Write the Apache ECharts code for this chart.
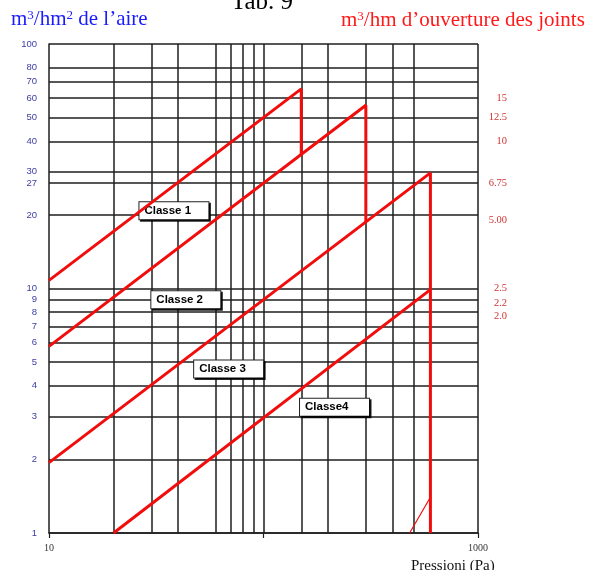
<!DOCTYPE html>
<html>
<head>
<meta charset="utf-8">
<script src="https://cdn.jsdelivr.net/npm/echarts@6/dist/echarts.min.js"></script>
<style>
  html, body { margin: 0; padding: 0; background: #fff; }
  #main { width: 591px; height: 570px; }
</style>
</head>
<body>
<div id="main"></div>
<script>
// Pressure values (Pa) that get a vertical grid line inside the plot
const pressureGrid = [20, 30, 40, 60, 70, 80, 90, 100, 150, 200, 300, 400, 500];
// Air flow per area (m³/hm²): horizontal grid lines, labelled on the left
const areaTicks = [1, 2, 3, 4, 5, 6, 7, 8, 9, 10, 20, 27, 30, 40, 50, 60, 70, 80, 100];
// Air flow per joint length (m³/hm), labelled on the right of these area lines
const jointTicks = ['15', '12.5', '10', '6.75', '5.00', '2.5', '2.2', '2.0'];
const jointTickAt = [60, 50, 40, 27, 20, 10, 9, 8];

// Permeability classes: [pressure Pa, flow m³/hm²]
const classNames = ['Classe 1', 'Classe 2', 'Classe 3', 'Classe4'];
const classe1 = [[10, 10.8], [150, 65.5], [150, 35.4]];
const classe2 = [[10, 5.8], [300, 56.2], [300, 18.7]];
const classe3 = [[10, 1.94], [600, 29.7], [600, 1]];
const classe4 = [[20, 1], [600, 9.9]];
const classe4Tail = [[480, 1], [600, 1.4]];

const GRID_COLOR = '#1e1e1e';
const RED = '#f20d0d';

const chart = echarts.init(document.getElementById('main'), null, { renderer: 'canvas' });

// grid lines + left value labels
const gridMarks = [];
pressureGrid.concat([1000]).forEach(v => gridMarks.push({ xAxis: v }));
areaTicks.forEach(v => gridMarks.push({
  yAxis: v,
  label: {
    show: true,
    position: 'start',
    distance: 12,
    formatter: String(v),
    color: '#3d3da3',
    fontFamily: 'Liberation Sans',
    fontSize: 9.5
  }
}));

// right-hand labels; a few sit slightly below their line
const nudge = { '5.00': 5, '2.2': 3.5, '2.0': 4.5 };
const jointMarks = jointTicks.map((t, i) => ({
  yAxis: jointTickAt[i],
  label: {
    show: true,
    position: 'end',
    distance: 10,
    formatter: '{r|' + t + '}',
    padding: [(nudge[t] || 0) * 2, 0, 0, 0],
    rich: {
      r: {
        width: 19,
        align: 'right',
        color: '#cf3434',
        fontFamily: 'Liberation Serif',
        fontSize: 10.5
      }
    }
  }
}));

function tag(text, coord) {
  return {
    symbol: 'circle',
    symbolSize: 0,
    silent: true,
    animation: false,
    label: {
      show: true,
      position: 'right',
      distance: 0,
      formatter: text,
      width: 64,
      height: 12,
      lineHeight: 12,
      padding: [3, 0, 2, 5],
      backgroundColor: '#fff',
      borderColor: '#222',
      borderWidth: 1,
      shadowColor: 'rgba(0,0,0,0.85)',
      shadowOffsetX: 1.5,
      shadowOffsetY: 1.5,
      shadowBlur: 0,
      color: '#000',
      fontFamily: 'Liberation Sans',
      fontWeight: 'bold',
      fontSize: 11.5
    },
    data: [{ coord: coord }]
  };
}

function classLine(name, data, markPoint, width) {
  return {
    name: name,
    type: 'line',
    data: data,
    showSymbol: false,
    symbol: 'none',
    animation: false,
    silent: true,
    z: 5,
    lineStyle: { color: RED, width: width || 3 },
    markPoint: markPoint
  };
}

function unitRich(color) {
  return {
    n: { fontFamily: 'Liberation Serif', fontSize: 21, lineHeight: 21, fontWeight: 'normal', color: color },
    s: { fontFamily: 'Liberation Serif', fontSize: 13, lineHeight: 13, fontWeight: 'normal', color: color, verticalAlign: 'top' }
  };
}

const option = {
  backgroundColor: '#fff',
  animation: false,
  title: [
    {
      text: 'Tab. 9', left: 231, top: -10, padding: 0,
      textStyle: { fontFamily: 'Liberation Serif', fontSize: 25, fontWeight: 'normal', color: '#000', lineHeight: 25 }
    },
    {
      text: '{n|m}{s|3}{n|/hm}{s|2}{n| de l’aire}', left: 11, top: 9, padding: 0,
      textStyle: { fontWeight: 'normal', rich: unitRich('#1a1aff') }
    },
    {
      text: '{n|m}{s|3}{n|/hm d’ouverture des joints}', left: 341, top: 10, padding: 0,
      textStyle: { fontWeight: 'normal', rich: unitRich('#ff1a1a') }
    },
    {
      text: 'Pressioni (Pa)', left: 411, top: 558.5, padding: 0,
      textStyle: { fontFamily: 'Liberation Serif', fontSize: 15, fontWeight: 'normal', color: '#111', lineHeight: 15 }
    }
  ],
  grid: { left: 49, right: 113, top: 44, bottom: 37, containLabel: false },
  xAxis: {
    type: 'log',
    logBase: 10,
    min: 10,
    max: 1000,
    axisLine: { show: true, lineStyle: { color: GRID_COLOR, width: 1.5 } },
    axisTick: { show: true, length: 5, lineStyle: { color: GRID_COLOR, width: 1.2 } },
    axisLabel: {
      margin: 10,
      color: '#333',
      fontFamily: 'Liberation Serif',
      fontSize: 10,
      formatter: v => (Math.round(v) === 100 ? '' : String(Math.round(v)))
    },
    splitLine: { show: false }
  },
  yAxis: {
    type: 'log',
    logBase: 10,
    min: 1,
    max: 100,
    axisLine: { show: true, lineStyle: { color: GRID_COLOR, width: 1.5 } },
    axisTick: { show: false },
    axisLabel: { show: false },
    splitLine: { show: false }
  },
  series: [
    {
      name: 'grid',
      type: 'line',
      data: [],
      silent: true,
      z: 1,
      markLine: {
        silent: true,
        animation: false,
        symbol: ['none', 'none'],
        lineStyle: { color: GRID_COLOR, width: 1.5, type: 'solid' },
        label: { show: false },
        emphasis: { disabled: true },
        data: gridMarks
      }
    },
    {
      name: 'joints',
      type: 'line',
      data: [],
      silent: true,
      z: 1,
      markLine: {
        silent: true,
        animation: false,
        symbol: ['none', 'none'],
        lineStyle: { color: 'rgba(0,0,0,0)', width: 0 },
        emphasis: { disabled: true },
        data: jointMarks
      }
    },
    classLine(classNames[0], classe1, tag(classNames[0], [26.4, 20.8])),
    classLine(classNames[1], classe2, tag(classNames[1], [30, 9])),
    classLine(classNames[2], classe3, tag(classNames[2], [47.5, 4.68])),
    classLine(classNames[3], classe4, tag(classNames[3], [148, 3.27])),
    classLine(classNames[3] + ' ', classe4Tail, null, 1.2)
  ]
};

chart.setOption(option);
</script>
</body>
</html>
